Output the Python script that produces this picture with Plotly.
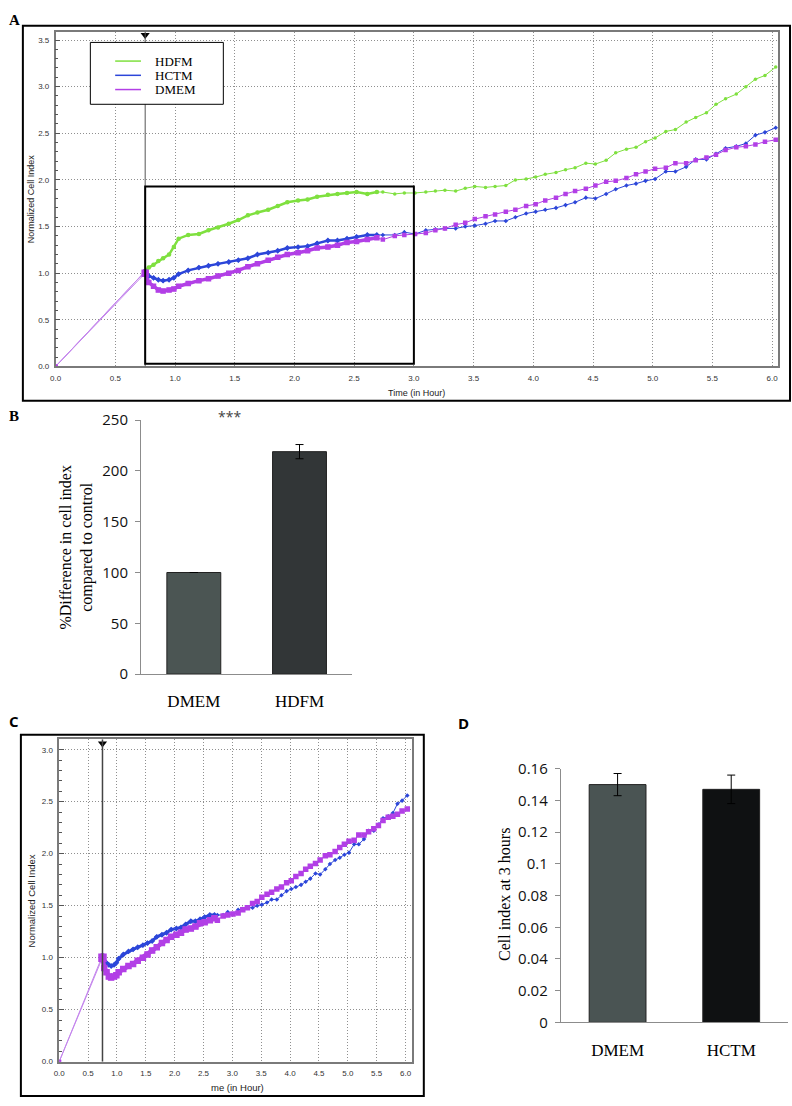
import plotly.graph_objects as go

# ---------------- DATA ----------------
# Panel A / C : real-time cell index (normalized)
t_dense = [0.75, 0.78, 0.82, 0.86, 0.90, 0.95, 0.99, 1.03, 1.11, 1.20, 1.28, 1.36, 1.45, 1.53,
           1.61, 1.69, 1.78, 1.86, 1.94, 2.03, 2.11, 2.19, 2.28, 2.36, 2.44, 2.52, 2.61, 2.69]
t_sparse = [2.74, 2.84, 2.92, 3.01, 3.10, 3.18, 3.26, 3.35, 3.43, 3.51,
            3.60, 3.68, 3.77, 3.85, 3.94, 4.02, 4.10, 4.19, 4.27, 4.35,
            4.44, 4.52, 4.61, 4.69, 4.78, 4.86, 4.94, 5.02, 5.11, 5.19,
            5.28, 5.36, 5.45, 5.53, 5.61, 5.70, 5.78, 5.86, 5.94, 6.03]

hdfm_dense = [1.02, 1.06, 1.09, 1.13, 1.16, 1.20, 1.28, 1.37, 1.41, 1.42, 1.46, 1.49, 1.53, 1.57,
              1.62, 1.65, 1.68, 1.72, 1.76, 1.78, 1.79, 1.82, 1.84, 1.85, 1.86, 1.87, 1.85, 1.87]
hdfm_sparse = [1.87, 1.85, 1.86, 1.86, 1.87, 1.88, 1.89, 1.88, 1.91, 1.93,
               1.92, 1.93, 1.94, 2.00, 2.01, 2.03, 2.06, 2.08, 2.11, 2.13,
               2.18, 2.17, 2.21, 2.29, 2.33, 2.35, 2.41, 2.45, 2.52, 2.54,
               2.62, 2.67, 2.72, 2.81, 2.87, 2.92, 3.00, 3.08, 3.12, 3.21]

hctm_dense = [1.02, 0.97, 0.95, 0.93, 0.92, 0.93, 0.95, 0.99, 1.03, 1.06, 1.08, 1.10, 1.12, 1.14,
              1.16, 1.20, 1.22, 1.24, 1.27, 1.28, 1.29, 1.32, 1.35, 1.35, 1.37, 1.39, 1.41, 1.41]
hctm_sparse = [1.41, 1.41, 1.44, 1.42, 1.46, 1.47, 1.48, 1.48, 1.50, 1.51,
               1.53, 1.56, 1.56, 1.60, 1.64, 1.66, 1.68, 1.70, 1.73, 1.76,
               1.81, 1.80, 1.85, 1.90, 1.94, 1.96, 1.99, 2.01, 2.09, 2.09,
               2.14, 2.22, 2.22, 2.28, 2.34, 2.36, 2.39, 2.48, 2.51, 2.56]

dmem_dense = [1.00, 0.90, 0.86, 0.82, 0.81, 0.82, 0.83, 0.86, 0.89, 0.92, 0.94, 0.97, 1.00, 1.03,
              1.07, 1.10, 1.14, 1.17, 1.20, 1.22, 1.24, 1.27, 1.28, 1.30, 1.33, 1.34, 1.36, 1.38]
dmem_sparse = [1.36, 1.40, 1.41, 1.42, 1.43, 1.46, 1.48, 1.52, 1.54, 1.58,
               1.61, 1.63, 1.66, 1.68, 1.72, 1.74, 1.78, 1.81, 1.85, 1.88,
               1.905, 1.94, 1.98, 1.99, 2.02, 2.06, 2.09, 2.12, 2.13, 2.18,
               2.18, 2.21, 2.24, 2.27, 2.32, 2.35, 2.36, 2.38, 2.41, 2.43]

t_start = [0.0]
v_start = [0.0]
treatment_time = 0.75
zoom_box = [0.75, 3.0, 0.03, 1.93]  # x0, x1, y0, y1 of highlighted window

# Panel B
b_categories = ["DMEM", "HDFM"]
b_values = [100, 219]
b_errors = [None, 7]

# Panel D
d_categories = ["DMEM", "HCTM"]
d_values = [0.150, 0.147]
d_errors = [0.007, 0.009]

# ---------------- STYLE ----------------
W, H = 792, 1106
GREEN, BLUE, PURPLE, LEAD = "#7fe03f", "#2c46d9", "#b23fe6", "#c486ec"
SANS = "Liberation Sans, Arial, sans-serif"
SERIF = "Liberation Serif, Times New Roman, serif"
CAL = "Open Sans, sans-serif"


def px(x):
    return x / W


def py(y):
    return 1 - y / H


fig = go.Figure()

series = [("HDFM", GREEN, hdfm_dense, hdfm_sparse, "circle"),
          ("HCTM", BLUE, hctm_dense, hctm_sparse, "diamond"),
          ("DMEM", PURPLE, dmem_dense, dmem_sparse, "square")]


def add_rtca(xa, ya, names, msize, dwidth):
    for name, col, dv, sv, sym in series:
        if name not in names:
            continue
        t_all = t_start + t_dense + t_sparse
        v_all = v_start + dv + sv
        # lead segment from origin
        fig.add_trace(go.Scatter(x=t_start + t_dense[:1], y=v_start + dv[:1], mode="lines+markers",
                                 line=dict(color=LEAD, width=1),
                                 marker=dict(symbol="square", size=4, color=PURPLE),
                                 xaxis=xa, yaxis=ya, showlegend=False, hoverinfo="skip"))
        fig.add_trace(go.Scatter(x=t_all[1:], y=v_all[1:], mode="lines+markers",
                                 line=dict(color=col, width=1),
                                 marker=dict(symbol=sym, size=msize[name], color=col),
                                 xaxis=xa, yaxis=ya, showlegend=False, name=name))
        fig.add_trace(go.Scatter(x=t_dense, y=dv, mode="lines+markers",
                                 line=dict(color=col, width=dwidth[name]),
                                 marker=dict(symbol=sym, size=msize[name] + 1, color=col),
                                 xaxis=xa, yaxis=ya, showlegend=False, name=name))
    # start square
    fig.add_trace(go.Scatter(x=t_dense[:1], y=dmem_dense[:1], mode="markers",
                             marker=dict(symbol="square", size=msize["DMEM"] + 3, color=PURPLE),
                             xaxis=xa, yaxis=ya, showlegend=False))


add_rtca("x", "y", ["HDFM", "HCTM", "DMEM"], {"HDFM": 3.5, "HCTM": 3.5, "DMEM": 4.5},
         {"HDFM": 2.5, "HCTM": 2.5, "DMEM": 3.5})
add_rtca("x3", "y3", ["HCTM", "DMEM"], {"HDFM": 3.5, "HCTM": 3.5, "DMEM": 5.5},
         {"HDFM": 2.5, "HCTM": 3, "DMEM": 4.5})

# treatment markers (triangles)
fig.add_trace(go.Scatter(x=[treatment_time], y=[3.555], mode="markers", xaxis="x", yaxis="y",
                         marker=dict(symbol="triangle-down", size=8, color="black"),
                         cliponaxis=False, showlegend=False))
fig.add_trace(go.Scatter(x=[treatment_time], y=[3.06], mode="markers", xaxis="x3", yaxis="y3",
                         marker=dict(symbol="triangle-down", size=8, color="black"),
                         cliponaxis=False, showlegend=False))

# Panel B bars
fig.add_trace(go.Bar(x=b_categories, y=b_values, xaxis="x2", yaxis="y2",
                     marker=dict(color=["#4b5553", "#323637"], line=dict(color="#222", width=1)),
                     error_y=dict(type="data", array=b_errors, color="black", thickness=1, width=4),
                     width=0.51, showlegend=False))
# Panel D bars
fig.add_trace(go.Bar(x=d_categories, y=d_values, xaxis="x4", yaxis="y4",
                     marker=dict(color=["#4a5453", "#0f1112"], line=dict(color="#222", width=1)),
                     error_y=dict(type="data", array=d_errors, color="black", thickness=1, width=4),
                     width=0.5, showlegend=False))

rt_tick = dict(family=SANS, size=8, color="#333")
rt_x = dict(showline=True, mirror=True, linecolor="#7a7a7a", linewidth=1.5, showgrid=True,
            gridcolor="#8f8f8f", griddash="1px,2px", gridwidth=1, dtick=0.5, tick0=0,
            tickformat=".1f", zeroline=False, ticks="", tickfont=rt_tick, ticklabelstandoff=3)
rt_y = dict(rt_x)
rt_y.update(ticks="inside", ticklen=5, tickcolor="#555",
            minor=dict(dtick=0.1, ticks="inside", ticklen=3, tickcolor="#555"))

bar_x = dict(showline=True, linecolor="#8c8c8c", linewidth=1, ticks="", showgrid=False,
             tickfont=dict(family=SERIF, size=17, color="black"), ticklabelstandoff=12,
             type="category")
bar_y = dict(showline=True, linecolor="#8c8c8c", linewidth=1, ticks="outside", ticklen=5,
             tickcolor="#8c8c8c", showgrid=False, zeroline=False,
             tickfont=dict(family=CAL, size=15, color="#111"), ticklabelstandoff=4)

fig.update_layout(
    width=W, height=H, margin=dict(l=0, r=0, t=0, b=0),
    paper_bgcolor="white", plot_bgcolor="white", showlegend=False, bargap=0.49,
    xaxis=dict(rt_x, domain=[px(50), px(778)], range=[0, 6.05], anchor="y"),
    yaxis=dict(rt_y, domain=[py(362), py(21)], range=[0, 3.59], anchor="x"),
    xaxis2=dict(bar_x, domain=[px(136), px(349)], anchor="y2"),
    yaxis2=dict(bar_y, domain=[py(675.3), py(416.7)], range=[0, 250], dtick=50, anchor="x2"),
    xaxis3=dict(rt_x, domain=[px(53.6), px(409)], range=[0, 6.11], anchor="y3"),
    yaxis3=dict(rt_y, domain=[py(1070), py(741.7)], range=[0, 3.10], anchor="x3"),
    xaxis4=dict(bar_x, domain=[px(559), px(788)], anchor="y4"),
    yaxis4=dict(bar_y, domain=[py(1030), py(771.7)], range=[0, 0.16], anchor="x4",
                tickvals=[0, 0.02, 0.04, 0.06, 0.08, 0.1, 0.12, 0.14, 0.16],
                ticktext=["0", "0.02", "0.04", "0.06", "0.08", "0.1", "0.12", "0.14", "0.16"]),
)

shapes = []
# vertical treatment lines
shapes.append(dict(type="line", xref="x", yref="y", x0=treatment_time, x1=treatment_time,
                   y0=0, y1=3.59, line=dict(color="#555", width=1)))
shapes.append(dict(type="line", xref="x3", yref="y3", x0=treatment_time, x1=treatment_time,
                   y0=0, y1=3.10, line=dict(color="#444", width=1.5)))
# zoom window box in A
shapes.append(dict(type="rect", xref="x", yref="y", x0=zoom_box[0], x1=zoom_box[1],
                   y0=zoom_box[2], y1=zoom_box[3], line=dict(color="black", width=2)))
# outer frames
shapes.append(dict(type="rect", xref="paper", yref="paper", x0=px(17), x1=px(790), y0=py(397),
                   y1=py(15), line=dict(color="black", width=2)))
shapes.append(dict(type="rect", xref="paper", yref="paper", x0=px(15), x1=px(421), y0=py(1105),
                   y1=py(737), line=dict(color="black", width=2)))
# legend box for A
shapes.append(dict(type="rect", xref="paper", yref="paper", x0=px(85), x1=px(219), y0=py(95),
                   y1=py(32), line=dict(color="black", width=1), fillcolor="white", layer="above"))
leg_rows = [("HDFM", GREEN, 51), ("HCTM", BLUE, 65.5), ("DMEM", PURPLE, 80)]
for name, col, yy in leg_rows:
    shapes.append(dict(type="line", xref="paper", yref="paper", x0=px(110), x1=px(136),
                       y0=py(yy), y1=py(yy), line=dict(color=col, width=1.5), layer="above"))
fig.update_layout(shapes=shapes)

ann = []
for name, col, yy in leg_rows:
    ann.append(dict(text=name, x=px(148), y=py(yy), xanchor="left", yanchor="middle",
                    font=dict(family=SERIF, size=13, color="black")))


def A(text, x, y, size, family, color="black", angle=0, xanchor="center"):
    ann.append(dict(text=text, x=px(x), y=py(y), xanchor=xanchor, yanchor="middle",
                    textangle=angle, font=dict(family=family, size=size, color=color)))


A("Time (in Hour)", 414, 389, 9, SANS, "#222")
A("Normalized Cell Index", 25, 191, 9, SANS, "#222", -90)
A("me (in Hour)", 233, 1096, 9.5, SANS, "#222")
A("Normalized Cell Index", 26, 906, 9.5, SANS, "#222", -90)
A("%Difference in cell index<br>compared to control", 71, 546, 16, SERIF, "black", -90)
A("Cell index at 3 hours", 503, 900, 16, SERIF, "black", -90)
A("***", 225, 413, 14, CAL, "#444")
A("<b>A</b>", 9, 9, 15, SERIF)
A("<b>B</b>", 8, 412, 15, SERIF)
A("<b>C</b>", 8, 723, 15, CAL)
A("<b>D</b>", 461, 725, 15, CAL)

for a in ann:
    a.update(xref="paper", yref="paper", showarrow=False)
fig.update_layout(annotations=ann)

fig.write_html("out.html", config={"displayModeBar": False},
               post_script="document.body.style.margin='0';document.body.style.padding='0';"
                           "document.documentElement.style.overflow='hidden';")
